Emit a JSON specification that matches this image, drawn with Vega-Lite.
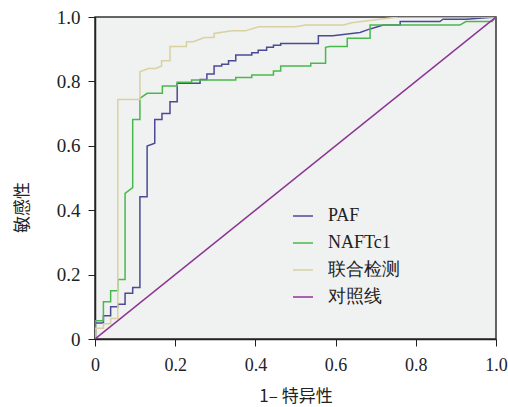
{
  "$schema": "https://vega.github.io/schema/vega-lite/v6.json",
  "autosize": {"type": "none"},
  "width": 401,
  "height": 322,
  "padding": {"left": 95, "top": 17, "right": 12, "bottom": 68},
  "background": "white",
  "config": {
    "view": {"fill": "#f0f1f1", "stroke": "#333333", "strokeWidth": 1.5},
    "axis": {
      "grid": false,
      "labelFont": "Liberation Serif",
      "labelFontSize": 18,
      "labelColor": "#222222",
      "tickColor": "#222222",
      "tickSize": 7,
      "domainColor": "#222222",
      "domainWidth": 1.5,
      "titleFont": "Noto Sans CJK SC",
      "titleFontSize": 17,
      "titleFontWeight": "normal",
      "titleColor": "#222222"
    }
  },
  "data": {
    "values": [
      {"s": "PAF", "o": 0, "x": 0, "y": 0},
      {"s": "PAF", "o": 1, "x": 0, "y": 0.05},
      {"s": "PAF", "o": 2, "x": 0.021, "y": 0.05},
      {"s": "PAF", "o": 3, "x": 0.021, "y": 0.072},
      {"s": "PAF", "o": 4, "x": 0.039, "y": 0.072},
      {"s": "PAF", "o": 5, "x": 0.039, "y": 0.1},
      {"s": "PAF", "o": 6, "x": 0.057, "y": 0.1},
      {"s": "PAF", "o": 7, "x": 0.057, "y": 0.108},
      {"s": "PAF", "o": 8, "x": 0.075, "y": 0.108},
      {"s": "PAF", "o": 9, "x": 0.075, "y": 0.142},
      {"s": "PAF", "o": 10, "x": 0.094, "y": 0.142},
      {"s": "PAF", "o": 11, "x": 0.094, "y": 0.16},
      {"s": "PAF", "o": 12, "x": 0.112, "y": 0.16},
      {"s": "PAF", "o": 13, "x": 0.112, "y": 0.442},
      {"s": "PAF", "o": 14, "x": 0.13, "y": 0.442},
      {"s": "PAF", "o": 15, "x": 0.13, "y": 0.599},
      {"s": "PAF", "o": 16, "x": 0.149, "y": 0.608},
      {"s": "PAF", "o": 17, "x": 0.149, "y": 0.682},
      {"s": "PAF", "o": 18, "x": 0.167, "y": 0.682},
      {"s": "PAF", "o": 19, "x": 0.167, "y": 0.7},
      {"s": "PAF", "o": 20, "x": 0.187, "y": 0.7},
      {"s": "PAF", "o": 21, "x": 0.187, "y": 0.737},
      {"s": "PAF", "o": 22, "x": 0.205, "y": 0.737},
      {"s": "PAF", "o": 23, "x": 0.205, "y": 0.794},
      {"s": "PAF", "o": 24, "x": 0.241, "y": 0.794},
      {"s": "PAF", "o": 25, "x": 0.262, "y": 0.794},
      {"s": "PAF", "o": 26, "x": 0.262, "y": 0.806},
      {"s": "PAF", "o": 27, "x": 0.279, "y": 0.806},
      {"s": "PAF", "o": 28, "x": 0.279, "y": 0.823},
      {"s": "PAF", "o": 29, "x": 0.297, "y": 0.823},
      {"s": "PAF", "o": 30, "x": 0.297, "y": 0.848},
      {"s": "PAF", "o": 31, "x": 0.316, "y": 0.848},
      {"s": "PAF", "o": 32, "x": 0.316, "y": 0.853},
      {"s": "PAF", "o": 33, "x": 0.333, "y": 0.853},
      {"s": "PAF", "o": 34, "x": 0.333, "y": 0.864},
      {"s": "PAF", "o": 35, "x": 0.351, "y": 0.864},
      {"s": "PAF", "o": 36, "x": 0.351, "y": 0.882},
      {"s": "PAF", "o": 37, "x": 0.391, "y": 0.882},
      {"s": "PAF", "o": 38, "x": 0.391, "y": 0.889},
      {"s": "PAF", "o": 39, "x": 0.407, "y": 0.889},
      {"s": "PAF", "o": 40, "x": 0.407, "y": 0.897},
      {"s": "PAF", "o": 41, "x": 0.428, "y": 0.897},
      {"s": "PAF", "o": 42, "x": 0.428, "y": 0.906},
      {"s": "PAF", "o": 43, "x": 0.445, "y": 0.906},
      {"s": "PAF", "o": 44, "x": 0.445, "y": 0.912},
      {"s": "PAF", "o": 45, "x": 0.463, "y": 0.912},
      {"s": "PAF", "o": 46, "x": 0.463, "y": 0.918},
      {"s": "PAF", "o": 47, "x": 0.557, "y": 0.918},
      {"s": "PAF", "o": 48, "x": 0.557, "y": 0.942},
      {"s": "PAF", "o": 49, "x": 0.593, "y": 0.942},
      {"s": "PAF", "o": 50, "x": 0.661, "y": 0.952},
      {"s": "PAF", "o": 51, "x": 0.686, "y": 0.963},
      {"s": "PAF", "o": 52, "x": 0.719, "y": 0.975},
      {"s": "PAF", "o": 53, "x": 0.761, "y": 0.975},
      {"s": "PAF", "o": 54, "x": 0.761, "y": 0.986},
      {"s": "PAF", "o": 55, "x": 0.86, "y": 0.986},
      {"s": "PAF", "o": 56, "x": 0.868, "y": 0.993},
      {"s": "PAF", "o": 57, "x": 0.925, "y": 0.993},
      {"s": "PAF", "o": 58, "x": 1, "y": 1},

      {"s": "NAFTc1", "o": 0, "x": 0, "y": 0},
      {"s": "NAFTc1", "o": 1, "x": 0, "y": 0.057},
      {"s": "NAFTc1", "o": 2, "x": 0.021, "y": 0.057},
      {"s": "NAFTc1", "o": 3, "x": 0.021, "y": 0.116},
      {"s": "NAFTc1", "o": 4, "x": 0.039, "y": 0.116},
      {"s": "NAFTc1", "o": 5, "x": 0.039, "y": 0.15},
      {"s": "NAFTc1", "o": 6, "x": 0.057, "y": 0.15},
      {"s": "NAFTc1", "o": 7, "x": 0.057, "y": 0.185},
      {"s": "NAFTc1", "o": 8, "x": 0.075, "y": 0.185},
      {"s": "NAFTc1", "o": 9, "x": 0.075, "y": 0.452},
      {"s": "NAFTc1", "o": 10, "x": 0.094, "y": 0.47},
      {"s": "NAFTc1", "o": 11, "x": 0.094, "y": 0.682},
      {"s": "NAFTc1", "o": 12, "x": 0.112, "y": 0.682},
      {"s": "NAFTc1", "o": 13, "x": 0.112, "y": 0.747},
      {"s": "NAFTc1", "o": 14, "x": 0.13, "y": 0.763},
      {"s": "NAFTc1", "o": 15, "x": 0.168, "y": 0.763},
      {"s": "NAFTc1", "o": 16, "x": 0.168, "y": 0.786},
      {"s": "NAFTc1", "o": 17, "x": 0.205, "y": 0.786},
      {"s": "NAFTc1", "o": 18, "x": 0.205, "y": 0.797},
      {"s": "NAFTc1", "o": 19, "x": 0.241, "y": 0.797},
      {"s": "NAFTc1", "o": 20, "x": 0.241, "y": 0.804},
      {"s": "NAFTc1", "o": 21, "x": 0.351, "y": 0.804},
      {"s": "NAFTc1", "o": 22, "x": 0.351, "y": 0.812},
      {"s": "NAFTc1", "o": 23, "x": 0.391, "y": 0.812},
      {"s": "NAFTc1", "o": 24, "x": 0.391, "y": 0.82},
      {"s": "NAFTc1", "o": 25, "x": 0.445, "y": 0.82},
      {"s": "NAFTc1", "o": 26, "x": 0.445, "y": 0.832},
      {"s": "NAFTc1", "o": 27, "x": 0.463, "y": 0.832},
      {"s": "NAFTc1", "o": 28, "x": 0.463, "y": 0.848},
      {"s": "NAFTc1", "o": 29, "x": 0.538, "y": 0.848},
      {"s": "NAFTc1", "o": 30, "x": 0.538, "y": 0.856},
      {"s": "NAFTc1", "o": 31, "x": 0.575, "y": 0.856},
      {"s": "NAFTc1", "o": 32, "x": 0.575, "y": 0.906},
      {"s": "NAFTc1", "o": 33, "x": 0.585, "y": 0.908},
      {"s": "NAFTc1", "o": 34, "x": 0.629, "y": 0.908},
      {"s": "NAFTc1", "o": 35, "x": 0.629, "y": 0.934},
      {"s": "NAFTc1", "o": 36, "x": 0.686, "y": 0.934},
      {"s": "NAFTc1", "o": 37, "x": 0.686, "y": 0.975},
      {"s": "NAFTc1", "o": 38, "x": 0.91, "y": 0.975},
      {"s": "NAFTc1", "o": 39, "x": 0.925, "y": 0.986},
      {"s": "NAFTc1", "o": 40, "x": 0.99, "y": 0.986},
      {"s": "NAFTc1", "o": 41, "x": 1, "y": 1},

      {"s": "联合检测", "o": 0, "x": 0, "y": 0},
      {"s": "联合检测", "o": 1, "x": 0, "y": 0.033},
      {"s": "联合检测", "o": 2, "x": 0.021, "y": 0.033},
      {"s": "联合检测", "o": 3, "x": 0.021, "y": 0.047},
      {"s": "联合检测", "o": 4, "x": 0.039, "y": 0.047},
      {"s": "联合检测", "o": 5, "x": 0.039, "y": 0.064},
      {"s": "联合检测", "o": 6, "x": 0.057, "y": 0.064},
      {"s": "联合检测", "o": 7, "x": 0.057, "y": 0.744},
      {"s": "联合检测", "o": 8, "x": 0.112, "y": 0.744},
      {"s": "联合检测", "o": 9, "x": 0.112, "y": 0.83},
      {"s": "联合检测", "o": 10, "x": 0.133, "y": 0.84},
      {"s": "联合检测", "o": 11, "x": 0.151, "y": 0.84},
      {"s": "联合检测", "o": 12, "x": 0.166, "y": 0.848},
      {"s": "联合检测", "o": 13, "x": 0.166, "y": 0.864},
      {"s": "联合检测", "o": 14, "x": 0.187, "y": 0.864},
      {"s": "联合检测", "o": 15, "x": 0.187, "y": 0.908},
      {"s": "联合检测", "o": 16, "x": 0.228, "y": 0.908},
      {"s": "联合检测", "o": 17, "x": 0.228, "y": 0.923},
      {"s": "联合检测", "o": 18, "x": 0.245, "y": 0.923},
      {"s": "联合检测", "o": 19, "x": 0.273, "y": 0.936},
      {"s": "联合检测", "o": 20, "x": 0.297, "y": 0.936},
      {"s": "联合检测", "o": 21, "x": 0.297, "y": 0.949},
      {"s": "联合检测", "o": 22, "x": 0.342, "y": 0.957},
      {"s": "联合检测", "o": 23, "x": 0.375, "y": 0.957},
      {"s": "联合检测", "o": 24, "x": 0.408, "y": 0.97},
      {"s": "联合检测", "o": 25, "x": 0.5, "y": 0.97},
      {"s": "联合检测", "o": 26, "x": 0.525, "y": 0.975},
      {"s": "联合检测", "o": 27, "x": 0.62, "y": 0.975},
      {"s": "联合检测", "o": 28, "x": 0.64, "y": 0.982},
      {"s": "联合检测", "o": 29, "x": 0.69, "y": 0.99},
      {"s": "联合检测", "o": 30, "x": 0.756, "y": 1},
      {"s": "联合检测", "o": 31, "x": 1, "y": 1},

      {"s": "对照线", "o": 0, "x": 0, "y": 0},
      {"s": "对照线", "o": 1, "x": 1, "y": 1}
    ]
  },
  "mark": {"type": "line", "strokeWidth": 1.5, "clip": true},
  "encoding": {
    "x": {
      "field": "x", "type": "quantitative",
      "scale": {"domain": [0, 1], "nice": false, "zero": true},
      "axis": {
        "values": [0, 0.2, 0.4, 0.6, 0.8, 1.0],
        "labelExpr": "datum.value == 0 ? '0' : format(datum.value, '.1f')",
        "labelPadding": 10,
        "labelFlush": false,
        "title": "1– 特异性",
        "titlePadding": 14
      }
    },
    "y": {
      "field": "y", "type": "quantitative",
      "scale": {"domain": [0, 1], "nice": false},
      "axis": {
        "values": [0, 0.2, 0.4, 0.6, 0.8, 1.0],
        "labelExpr": "datum.value == 0 ? '0' : format(datum.value, '.1f')",
        "labelPadding": 8,
        "labelFlush": false,
        "labelFontSize": 19,
        "title": "敏感性",
        "titleX": -73,
        "titleY": 190,
        "titleAngle": -90,
        "titleAlign": "center",
        "titleBaseline": "middle"
      }
    },
    "order": {"field": "o", "type": "quantitative"},
    "color": {
      "field": "s", "type": "nominal",
      "scale": {
        "domain": ["PAF", "NAFTc1", "联合检测", "对照线"],
        "range": ["#4a4a96", "#48b94c", "#d9d1a1", "#8c3494"]
      },
      "legend": {
        "title": null,
        "orient": "none",
        "legendX": 197,
        "legendY": 188,
        "padding": 0,
        "symbolType": "stroke",
        "symbolSize": 400,
        "symbolStrokeWidth": 1.5,
        "labelFont": "Liberation Serif",
        "labelFontSize": 18,
        "labelColor": "#222222",
        "labelOffset": 14,
        "rowPadding": 7
      }
    }
  }
}
